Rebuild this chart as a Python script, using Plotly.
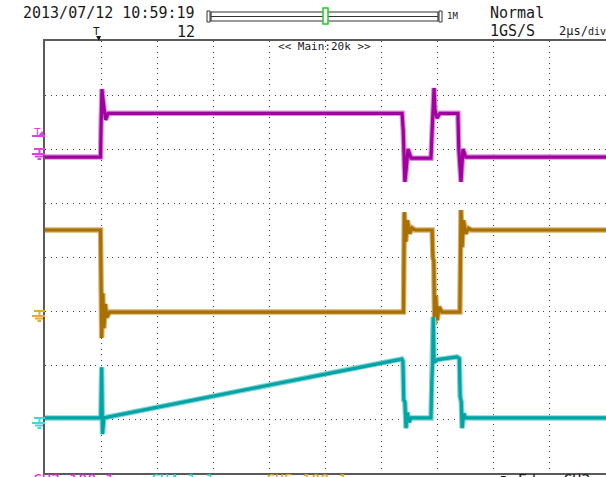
import plotly.graph_objects as go

# ---- waveform data (time in microseconds, level in divisions above each channel's ground) ----
ch3_t = [-2.0, -0.02, 0.00, 0.03, 0.07, 0.11, 0.16, 0.25, 10.73, 10.77, 10.80, 10.83, 10.90, 10.94,
         11.05, 11.76, 11.80, 11.83, 11.87, 11.90, 11.97, 12.08, 12.72, 12.75, 12.83, 12.90, 13.00, 18.0]
ch3_v = [0.0, 0.0, 0.60, 1.26, 1.06, 0.87, 0.69, 0.81, 0.81, 0.50, 0.17, -0.46, -0.10, 0.15,
         -0.02, -0.02, 0.48, 0.89, 1.28, 0.89, 0.72, 0.81, 0.81, 0.17, -0.46, 0.15, 0.0, 0.0]

ch5_t = [-2.0, -0.02, 0.02, 0.06, 0.10, 0.15, 0.20, 0.30, 10.78, 10.81, 10.86, 10.92, 11.00, 11.08,
         11.20, 11.80, 11.83, 11.86, 11.89, 11.93, 11.98, 12.05, 12.15, 12.79, 12.83, 12.87, 12.92,
         13.00, 13.10, 13.20, 18.0]
ch5_v = [1.52, 1.52, -0.48, 0.35, -0.30, 0.15, -0.10, 0.0, 0.0, 1.85, 1.30, 1.70, 1.45, 1.56,
         1.52, 1.52, 1.00, 0.95, -0.24, 0.30, -0.15, 0.10, 0.0, 0.0, 1.89, 1.20, 1.70,
         1.45, 1.55, 1.52, 1.52]

ch4_t = [-2.0, -0.01, 0.02, 0.05, 0.10, 2.0, 4.0, 6.0, 8.0, 10.0, 10.72, 10.76, 10.79, 10.83,
         10.87, 10.92, 10.98, 11.05, 11.76, 11.79, 11.82, 11.84, 11.87, 12.0, 12.69, 12.77, 12.80,
         12.84, 12.87, 12.93, 13.00, 18.0]
ch4_v = [0.0, 0.0, 0.94, -0.30, 0.0, 0.20, 0.40, 0.61, 0.81, 1.02, 1.09, 1.05, 0.33, 0.30,
         -0.19, 0.10, -0.08, 0.0, 0.0, 0.67, 1.03, 1.87, 1.03, 1.08, 1.13, 1.10, 0.39,
         0.30, -0.19, 0.08, 0.0, 0.0]

# ground reference of each channel, in screen divisions from the bottom
ch3_ground = 5.85
ch5_ground = 2.98
ch4_ground = 1.02

channels = [
    ("CH3", ch3_t, ch3_v, ch3_ground, "#a000a0", "#d890d8"),
    ("CH5", ch5_t, ch5_v, ch5_ground, "#a87000", "#d8b070"),
    ("CH4", ch4_t, ch4_v, ch4_ground, "#00a4a4", "#80d4d4"),
]

W, H = 606, 477
L, T, B = 45, 41, 4
PW, PH = W - L, H - T - B


def px(x):
    return (x - L) / PW


def py(y):
    return (H - B - y) / PH


fig = go.Figure()
for name, t, v, g, core, halo in channels:
    y = [g + val for val in v]
    fig.add_trace(go.Scatter(x=t, y=y, mode="lines", line=dict(color=halo, width=5.5),
                             hoverinfo="skip", showlegend=False))
    fig.add_trace(go.Scatter(x=t, y=y, mode="lines", line=dict(color=core, width=3.2),
                             name=name, showlegend=False))

shapes = []
annotations = []
mono = "DejaVu Sans Mono"


def text(x, y, s, size=15, color="#1a1a1a", xanchor="left", yanchor="middle"):
    annotations.append(dict(x=px(x), y=py(y), xref="paper", yref="paper", text=s, showarrow=False,
                            xanchor=xanchor, yanchor=yanchor, borderpad=0,
                            font=dict(family=mono, size=size, color=color)))


def line(x0, y0, x1, y1, color, width=1.5):
    shapes.append(dict(type="line", xref="paper", yref="paper", x0=px(x0), y0=py(y0), x1=px(x1),
                       y1=py(y1), line=dict(color=color, width=width), layer="above"))


def ground(y0, color):
    line(34, y0, 45, y0, color, 2)
    line(39.5, y0, 39.5, y0 + 5, color, 2)
    line(32, y0 + 5, 45, y0 + 5, color, 2)
    line(35, y0 + 7.5, 43, y0 + 7.5, color, 2)
    line(37.5, y0 + 10, 41, y0 + 10, color, 2)


# header
text(22, 13, "2013/07/12 10:59:19")
text(176, 32, "12")
text(489, 13, "Normal")
text(489, 31, "1GS/S")
text(558, 31, "2μs/<span style='font-size:10px'>div</span>", size=12)
text(446, 16, "1M", size=9)
text(324, 47, "<< Main:20k >>", size=11, xanchor="center")
text(96, 31, "T", size=11, xanchor="center")
shapes.append(dict(type="path", xref="paper", yref="paper", layer="above",
                   path=f"M {px(96)},{py(36)} L {px(101)},{py(36)} L {px(99)},{py(41)} Z",
                   fillcolor="#1a1a1a", line=dict(width=0)))

# zoom position bar
shapes.append(dict(type="rect", xref="paper", yref="paper", x0=px(211), x1=px(438), y0=py(12),
                   y1=py(21), line=dict(color="#333", width=1.2), layer="above"))
line(211, 16.5, 438, 16.5, "#333", 1.2)
shapes.append(dict(type="rect", xref="paper", yref="paper", x0=px(207), x1=px(210), y0=py(11),
                   y1=py(22), line=dict(color="#333", width=1), layer="above"))
shapes.append(dict(type="rect", xref="paper", yref="paper", x0=px(439), x1=px(442), y0=py(11),
                   y1=py(22), line=dict(color="#333", width=1), layer="above"))
shapes.append(dict(type="rect", xref="paper", yref="paper", x0=px(323), x1=px(328), y0=py(8),
                   y1=py(24), line=dict(color="#22cc22", width=1.5), fillcolor="white",
                   layer="above"))

# channel markers on the left edge
text(37, 132, "T", size=11, color="#e040e0", xanchor="center")
shapes.append(dict(type="path", xref="paper", yref="paper", layer="above",
                   path=f"M {px(38)},{py(136)} L {px(45)},{py(136)} L {px(42)},{py(131)} Z",
                   fillcolor="#e040e0", line=dict(width=0)))
line(32, 136, 45, 136, "#e040e0", 2)
ground(149, "#e040e0")
ground(311, "#e8a838")
ground(418, "#40d8d8")

# channel labels along the bottom edge
text(32, 471, "CH3 100:1", color="#e020e0", yanchor="top")
text(150, 471, "CH4 1:1", color="#20d0d0", yanchor="top")
text(265, 471, "CH5 100:1", color="#e0a020", yanchor="top")
text(497, 471, "⎍ Edge CH3", color="#1a1a1a", yanchor="top")

fig.update_layout(
    width=W, height=H,
    margin=dict(l=L, r=0, t=T, b=B),
    paper_bgcolor="white", plot_bgcolor="white",
    shapes=shapes, annotations=annotations,
    xaxis=dict(range=[-2, 18], dtick=2, tick0=-2, showgrid=True, gridcolor="#404040",
               gridwidth=1, griddash="1px,4.4px", zeroline=False, showticklabels=False,
               ticks="", showline=True, mirror=True, linecolor="#5a5a5a", linewidth=2,
               fixedrange=True),
    yaxis=dict(range=[0, 8], dtick=1, tick0=0, showgrid=True, gridcolor="#404040",
               gridwidth=1, griddash="1px,4.6px", zeroline=False, showticklabels=False,
               ticks="", showline=True, mirror=False, linecolor="#5a5a5a", linewidth=2,
               fixedrange=True),
)

fig.write_html("out.html")
